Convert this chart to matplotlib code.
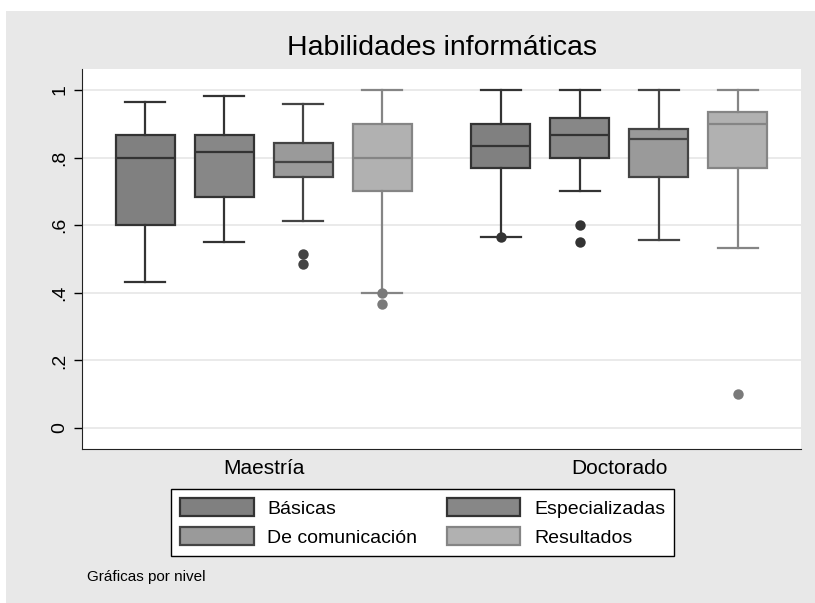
import matplotlib
matplotlib.use('Agg')
import matplotlib.pyplot as plt
from matplotlib.patches import Patch, Rectangle

plt.rcParams['font.family'] = ['Liberation Sans', 'DejaVu Sans']

groups = ['Maestría', 'Doctorado']
series = ['Básicas', 'Especializadas', 'De comunicación', 'Resultados']

# whislo, q1, median, q3, whishi, outliers  (per group, per series)
stats_maestria = [
    (0.433, 0.600, 0.800, 0.867, 0.965, []),
    (0.550, 0.683, 0.817, 0.867, 0.983, []),
    (0.613, 0.744, 0.786, 0.844, 0.958, [0.514, 0.485]),
    (0.400, 0.700, 0.800, 0.900, 1.000, [0.400, 0.366]),
]
stats_doctorado = [
    (0.566, 0.768, 0.833, 0.900, 1.000, [0.566]),
    (0.700, 0.800, 0.867, 0.917, 1.000, [0.600, 0.550]),
    (0.556, 0.743, 0.856, 0.886, 1.000, []),
    (0.533, 0.768, 0.900, 0.934, 1.000, [0.100]),
]

fills = ['#808080', '#878787', '#9a9a9a', '#b1b1b1']
edges = ['#333333', '#333333', '#444444', '#858585']

fig = plt.figure(figsize=(8.15, 6.03), dpi=100)
fig.patch.set_facecolor('white')
fig.patches.append(Rectangle((6 / 815, 0), 1, 1 - 11 / 603, transform=fig.transFigure,
                             facecolor='#e8e8e8', edgecolor='none', zorder=-10))

ax = fig.add_axes([82 / 815, 1 - 449 / 603, 719 / 815, 380 / 603])
ax.set_facecolor('white')

group_pos = [0, 4.5]
offsets = [-1.5, -0.5, 0.5, 1.5]
for g, gstats in zip(group_pos, [stats_maestria, stats_doctorado]):
    for i, (lo, q1, med, q3, hi, fl) in enumerate(gstats):
        st = [dict(whislo=lo, q1=q1, med=med, q3=q3, whishi=hi, fliers=fl)]
        ax.bxp(st, positions=[g + offsets[i]], widths=0.75, capwidths=0.5,
               patch_artist=True, manage_ticks=False,
               boxprops=dict(facecolor=fills[i], edgecolor=edges[i], linewidth=1.6),
               medianprops=dict(color=edges[i], linewidth=1.6),
               whiskerprops=dict(color=edges[i], linewidth=1.6),
               capprops=dict(color=edges[i], linewidth=1.6),
               flierprops=dict(marker='o', markerfacecolor=edges[i] if i < 3 else '#7a7a7a',
                               markeredgecolor='none', markersize=7.5))

ax.set_xlim(-2.3, 6.8)
ax.set_ylim(-0.062, 1.062)
yticks = [0, 0.2, 0.4, 0.6, 0.8, 1]
ax.set_yticks(yticks)
ax.set_yticklabels(['0', '.2', '.4', '.6', '.8', '1'], rotation=90, va='center', fontsize=14)
ax.tick_params(axis='y', length=6, width=1, pad=4)
ax.set_xticks(group_pos)
ax.set_xticklabels(groups, fontsize=15)
ax.tick_params(axis='x', length=0, pad=7)
ax.grid(axis='y', color='#e6e6e6', linewidth=1.2)
ax.set_axisbelow(True)
for s in ['top', 'right']:
    ax.spines[s].set_visible(False)
ax.spines['left'].set_color('#222222')
ax.spines['bottom'].set_color('#222222')

fig.text(442 / 815, 1 - 48 / 603, 'Habilidades informáticas', ha='center', va='center', fontsize=20.5)

handles = [Patch(facecolor=fills[i], edgecolor=edges[i], linewidth=1.6) for i in range(4)]
order = [0, 2, 1, 3]
leg = fig.legend([handles[i] for i in order], [series[i] for i in order], ncol=2,
                 loc='center', bbox_to_anchor=(422.5 / 815, 1 - 522.5 / 603),
                 fontsize=14, handlelength=3.8, handleheight=1.05, handletextpad=0.7,
                 columnspacing=1.5, labelspacing=0.5, fancybox=False,
                 edgecolor='black', framealpha=1, borderpad=0.45)
leg.get_frame().set_linewidth(1.0)

fig.text(87 / 815, 1 - 577 / 603, 'Gráficas por nivel', ha='left', va='center', fontsize=11)

fig.savefig('out.png', dpi=100)
